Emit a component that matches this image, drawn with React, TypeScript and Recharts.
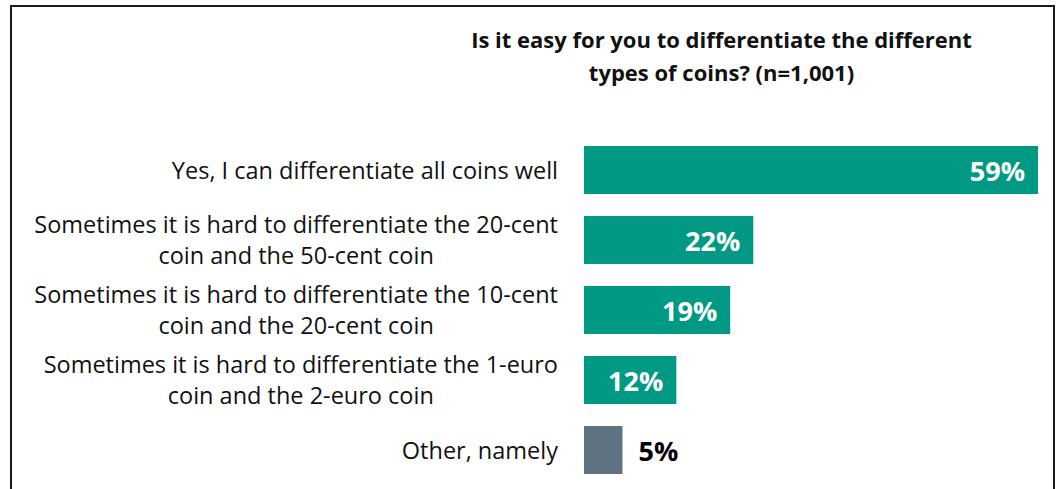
import { BarChart, Bar, XAxis, YAxis, Cell, LabelList } from "recharts";

// survey answers, top to bottom (line breaks as in the original slide)
const answers = [
    "Yes, I can differentiate all coins well",
    "Sometimes it is hard to differentiate the 20-cent\ncoin and the 50-cent coin",
    "Sometimes it is hard to differentiate the 10-cent\ncoin and the 20-cent coin",
    "Sometimes it is hard to differentiate the 1-euro\ncoin and the 2-euro coin",
    "Other, namely",
];
const shares = [59, 22, 19, 12, 5];

const titleLines = [
    "Is it easy for you to differentiate the different",
    "types of coins? (n=1,001)",
];

const TEAL = "#009a84";
const GREY = "#5f7282";
const FONT = "'Open Sans', Lato, sans-serif";
const LABEL_RIGHT = 558;
const LINE_H = 31;

const data = answers.map((name, i) => ({ name, value: shares[i] }));

// multi-line labels: block is right aligned, lines centred inside it
function AnswerTick(props: any) {
    const { y, payload } = props;
    const lines: string[] = String(payload.value).split("\n");
    const h = lines.length * LINE_H + 10;
    return (
        <foreignObject x={0} y={y - h / 2} width={LABEL_RIGHT} height={h}>
            <div
                style={{
                    display: "flex",
                    justifyContent: "flex-end",
                    alignItems: "center",
                    height: "100%",
                }}
            >
                <div
                    style={{
                        textAlign: "center",
                        fontFamily: FONT,
                        fontSize: 23.5,
                        lineHeight: LINE_H + "px",
                        color: "#111",
                        whiteSpace: "nowrap",
                    }}
                >
                    {lines.map((l, i) => (
                        <div key={i}>{l}</div>
                    ))}
                </div>
            </div>
        </foreignObject>
    );
}

function ValueLabel(props: any) {
    const { x, y, width, height, value } = props;
    const cy = y + height / 2;
    const inside = value >= 8;
    return (
        <text
            x={inside ? x + width - 13 : x + width + 16}
            y={cy}
            textAnchor={inside ? "end" : "start"}
            dominantBaseline="central"
            fontFamily={FONT}
            fontWeight="bold"
            fontSize={27}
            fill={inside ? "#fff" : "#000"}
        >
            {value}%
        </text>
    );
}

export default function App() {
    return (
        <div
            style={{
                position: "absolute",
                left: 0,
                top: 0,
                width: 1058,
                height: 489,
                overflow: "hidden",
                background: "#fff",
            }}
        >
            {/* frame, open at the bottom */}
            <div
                style={{
                    position: "absolute",
                    left: 10,
                    top: 5,
                    width: 1045,
                    height: 500,
                    boxSizing: "border-box",
                    borderTop: "2px solid #1a1a1a",
                    borderLeft: "2px solid #1a1a1a",
                    borderRight: "2px solid #1a1a1a",
                }}
            />
            <div
                style={{
                    position: "absolute",
                    left: 371,
                    top: 23,
                    width: 701,
                    textAlign: "center",
                    fontFamily: FONT,
                    fontWeight: "bold",
                    fontSize: 22,
                    lineHeight: "33px",
                    color: "#111",
                }}
            >
                {titleLines.map((t) => (
                    <div key={t}>{t}</div>
                ))}
            </div>
            <div style={{ position: "absolute", left: 0, top: 0 }}>
                <BarChart
                    width={1058}
                    height={489}
                    data={data}
                    layout="vertical"
                    margin={{ top: 135, right: 20, bottom: 4, left: 0 }}
                >
                    <XAxis type="number" domain={[0, 59]} hide />
                    <YAxis
                        type="category"
                        dataKey="name"
                        width={584}
                        axisLine={false}
                        tickLine={false}
                        interval={0}
                        tick={<AnswerTick />}
                    />
                    <Bar dataKey="value" barSize={48} isAnimationActive={false}>
                        {data.map((d, i) => (
                            <Cell key={d.name} fill={i === data.length - 1 ? GREY : TEAL} />
                        ))}
                        <LabelList dataKey="value" content={<ValueLabel />} />
                    </Bar>
                </BarChart>
            </div>
        </div>
    );
}
